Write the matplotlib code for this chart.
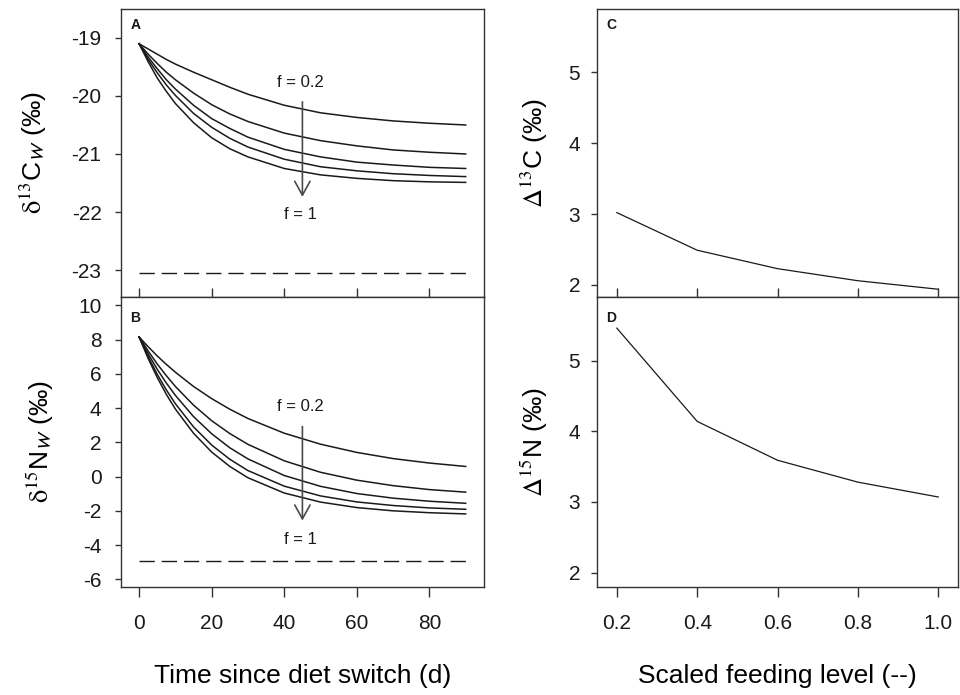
"""
Isotopic turnover after a diet switch at five scaled feeding levels,
and the resulting trophic discrimination versus feeding level.
"""

import matplotlib
matplotlib.use('Agg')
import matplotlib.pyplot as plt

plt.rcParams['font.family'] = ['Liberation Sans', 'DejaVu Sans']
plt.rcParams['mathtext.fontset'] = 'stix'

# Tiempo desde el cambio de dieta (d)
dias = [0, 2.5, 5, 7.5, 10, 15, 20, 25, 30, 40, 50, 60, 70, 80, 90]

# delta13C del tejido, de f = 0.2 (arriba) a f = 1 (abajo)
d13c_f02 = [-19.10, -19.19, -19.28, -19.37, -19.45, -19.59, -19.72, -19.85, -19.97, -20.16, -20.29, -20.37, -20.43, -20.47, -20.50]
d13c_f04 = [-19.10, -19.28, -19.44, -19.59, -19.72, -19.95, -20.15, -20.31, -20.44, -20.64, -20.77, -20.86, -20.93, -20.97, -21.00]
d13c_f06 = [-19.10, -19.33, -19.53, -19.72, -19.88, -20.16, -20.39, -20.56, -20.71, -20.92, -21.05, -21.14, -21.19, -21.23, -21.25]
d13c_f08 = [-19.10, -19.37, -19.60, -19.81, -19.99, -20.30, -20.54, -20.73, -20.88, -21.09, -21.22, -21.29, -21.34, -21.37, -21.39]
d13c_f10 = [-19.10, -19.41, -19.69, -19.92, -20.13, -20.46, -20.72, -20.91, -21.05, -21.25, -21.36, -21.42, -21.46, -21.48, -21.49]
d13c_dieta = -23.05

# delta15N del tejido
d15n_f02 = [8.15, 7.58, 7.04, 6.55, 6.09, 5.26, 4.55, 3.93, 3.39, 2.53, 1.89, 1.41, 1.05, 0.79, 0.59]
d15n_f04 = [8.15, 7.33, 6.57, 5.89, 5.26, 4.17, 3.26, 2.51, 1.88, 0.92, 0.25, -0.21, -0.53, -0.76, -0.91]
d15n_f06 = [8.15, 7.16, 6.26, 5.46, 4.74, 3.50, 2.50, 1.68, 1.03, 0.06, -0.57, -0.99, -1.26, -1.44, -1.56]
d15n_f08 = [8.15, 6.99, 5.97, 5.06, 4.25, 2.90, 1.84, 1.01, 0.35, -0.56, -1.13, -1.48, -1.69, -1.83, -1.91]
d15n_f10 = [8.15, 6.89, 5.78, 4.80, 3.94, 2.53, 1.43, 0.59, -0.07, -0.96, -1.49, -1.81, -2.00, -2.11, -2.18]
d15n_dieta = -4.91

# Discriminacion trofica frente al nivel de alimentacion
nivel = [0.2, 0.4, 0.6, 0.8, 1.0]
disc_c = [3.02, 2.49, 2.23, 2.06, 1.94]
disc_n = [5.46, 4.14, 3.59, 3.28, 3.07]

COLOR_LINEA = '#1a1a1a'
COLOR_EJE = '#333333'


def estilo_ejes(ax, pad_y):
    for s in ax.spines.values():
        s.set_color(COLOR_EJE)
        s.set_linewidth(1.0)
    ax.tick_params(colors=COLOR_EJE, labelcolor='#1a1a1a', labelsize=15,
                   width=1.0)
    ax.tick_params(axis='y', length=4, pad=pad_y)
    ax.tick_params(axis='x', length=7, pad=13)


def flecha(ax, x, y_ini, y_fin, y_txt_arriba, y_txt_abajo):
    ax.annotate('', xy=(x, y_fin), xytext=(x, y_ini),
                arrowprops=dict(arrowstyle='->,head_length=1.0,head_width=0.55',
                                color='#4a4a4a', lw=1.2, shrinkA=0, shrinkB=0))
    ax.text(x - 0.5, y_txt_arriba, 'f = 0.2', ha='center', va='center',
            fontsize=12, color='#1a1a1a')
    ax.text(x - 0.5, y_txt_abajo, 'f = 1', ha='center', va='center',
            fontsize=12, color='#1a1a1a')


fig = plt.figure(figsize=(9.6, 6.95), dpi=100)
ax_a = fig.add_axes([0.1260, 0.5731, 0.378, 0.4140])
ax_b = fig.add_axes([0.1260, 0.1558, 0.378, 0.4173])
ax_c = fig.add_axes([0.6216, 0.5731, 0.3767, 0.4140])
ax_d = fig.add_axes([0.6216, 0.1558, 0.3767, 0.4173])

# Panel A: carbono
for serie in [d13c_f02, d13c_f04, d13c_f06, d13c_f08, d13c_f10]:
    ax_a.plot(dias, serie, color=COLOR_LINEA, lw=1.1)
ax_a.plot([dias[0], dias[-1]], [d13c_dieta, d13c_dieta], color=COLOR_LINEA,
          lw=1.0, dashes=(11, 5))
flecha(ax_a, 45, -20.10, -21.74, -19.77, -22.05)
ax_a.set_xlim(-5, 95)
ax_a.set_ylim(-23.46, -18.5)
ax_a.set_yticks([-19, -20, -21, -22, -23])
ax_a.set_yticklabels(['-19', '-20', '-21', '-22', '-23'])
ax_a.set_ylabel(r'$\mathrm{\delta}^{13}$C$_{\mathsf{W}}$ (‰)', fontsize=19, labelpad=16)

# Panel B: nitrogeno
for serie in [d15n_f02, d15n_f04, d15n_f06, d15n_f08, d15n_f10]:
    ax_b.plot(dias, serie, color=COLOR_LINEA, lw=1.1)
ax_b.plot([dias[0], dias[-1]], [d15n_dieta, d15n_dieta], color=COLOR_LINEA,
          lw=1.0, dashes=(11, 5))
flecha(ax_b, 45, 2.92, -2.57, 4.09, -3.70)
ax_b.set_xlim(-5, 95)
ax_b.set_ylim(-6.43, 10.5)
ax_b.set_yticks(range(-6, 11, 2))
ax_b.set_yticklabels([str(v) for v in range(-6, 11, 2)])
ax_b.set_xticks([0, 20, 40, 60, 80])
ax_b.set_ylabel(r'$\mathrm{\delta}^{15}$N$_{\mathsf{W}}$ (‰)', fontsize=19, labelpad=16)
ax_b.set_xlabel('Time since diet switch (d)', fontsize=19, labelpad=22)

# Panel C y D: discriminacion
ax_c.plot(nivel, disc_c, color=COLOR_LINEA, lw=0.9)
ax_c.set_xlim(0.15, 1.05)
ax_c.set_ylim(1.835, 5.89)
ax_c.set_yticks([2, 3, 4, 5])
ax_c.set_ylabel(r'$\Delta^{13}$C (‰)', fontsize=19, labelpad=13)

ax_d.plot(nivel, disc_n, color=COLOR_LINEA, lw=0.9)
ax_d.set_xlim(0.15, 1.05)
ax_d.set_ylim(1.80, 5.905)
ax_d.set_yticks([2, 3, 4, 5])
ax_d.set_xticks(nivel)
ax_d.set_xticklabels(['0.2', '0.4', '0.6', '0.8', '1.0'])
ax_d.set_ylabel(r'$\Delta^{15}$N (‰)', fontsize=19, labelpad=13)
ax_d.set_xlabel('Scaled feeding level (--)', fontsize=19, labelpad=22)

for ax in (ax_a, ax_b):
    estilo_ejes(ax, 10)
for ax in (ax_c, ax_d):
    estilo_ejes(ax, 8)

# Los paneles de arriba comparten el eje x con los de abajo
ax_a.set_xticks([0, 20, 40, 60, 80])
ax_c.set_xticks(nivel)
for ax in (ax_a, ax_c):
    ax.tick_params(axis='x', direction='inout', length=13, labelbottom=False)

for ax, letra in zip((ax_a, ax_b, ax_c, ax_d), 'ABCD'):
    ax.text(0.04, 0.945 if letra in 'AC' else 0.925, letra, transform=ax.transAxes,
            fontsize=10, fontweight='bold', ha='center', va='center', color='#1a1a1a')

fig.savefig('out.png', dpi=100)
